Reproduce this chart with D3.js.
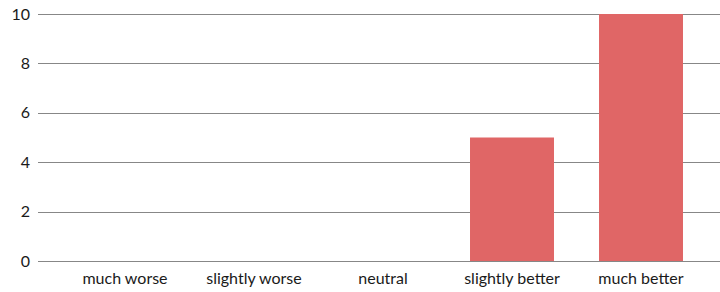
<!DOCTYPE html>
<html lang="en">
<head>
<meta charset="UTF-8">
<title>Bar Chart</title>
<script src="https://cdn.jsdelivr.net/npm/d3@7/dist/d3.min.js"></script>
<style>
  body { margin: 0; background: #fff; }
  text { font-family: Lato, "Open Sans", sans-serif; font-size: 16px; fill: #1a1a1a; }
</style>
</head>
<body>
<svg id="chart" width="720" height="292"></svg>
<script>
var categories = ["much worse", "slightly worse", "neutral", "slightly better", "much better"];
var values = [0, 0, 0, 5, 10];
var yTicks = [0, 2, 4, 6, 8, 10];

var svg = d3.select("#chart");

var gridLeft = 38, gridRight = 720;

var x = d3.scaleBand()
    .domain(categories)
    .range([60.5, 705.5])
    .paddingInner(0.349)
    .paddingOuter(0.1745);

var y = d3.scaleLinear().domain([0, 10]).range([261, 14]);

// gridlines
svg.append("g").selectAll("line")
    .data(yTicks)
    .enter().append("line")
    .attr("x1", gridLeft)
    .attr("x2", gridRight)
    .attr("y1", d => Math.round(y(d)) + 0.5)
    .attr("y2", d => Math.round(y(d)) + 0.5)
    .attr("stroke", "#878787")
    .attr("stroke-width", 1);

// y labels
svg.append("g").selectAll("text")
    .data(yTicks)
    .enter().append("text")
    .attr("x", 30)
    .attr("y", d => y(d))
    .attr("dy", "0.35em")
    .attr("text-anchor", "end")
    .text(d => d);

// bars
svg.append("g").selectAll("rect")
    .data(values)
    .enter().append("rect")
    .attr("x", (d, i) => x(categories[i]))
    .attr("width", x.bandwidth())
    .attr("y", d => y(d))
    .attr("height", d => y(0) - y(d))
    .attr("fill", "#e06666");

// category labels
svg.append("g").selectAll("text")
    .data(categories)
    .enter().append("text")
    .attr("x", d => x(d) + x.bandwidth() / 2)
    .attr("y", 284)
    .attr("text-anchor", "middle")
    .text(d => d);
</script>
</body>
</html>
